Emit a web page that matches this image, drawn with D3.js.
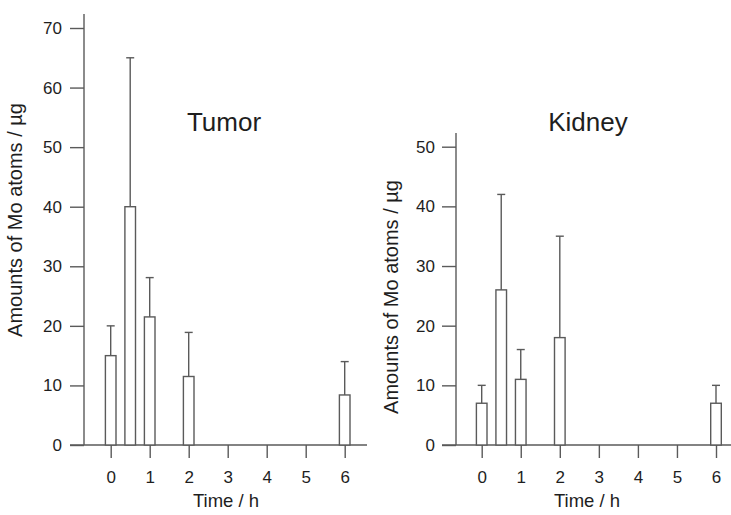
<!DOCTYPE html>
<html>
<head>
<meta charset="utf-8">
<script src="https://cdn.jsdelivr.net/npm/d3@7"></script>
<style>
  html, body { margin: 0; padding: 0; background: #fff; }
  svg { display: block; }
  text { font-family: "Liberation Sans", Arial, Helvetica, sans-serif; fill: #1e1e1e; }
</style>
</head>
<body>
<svg id="chart" width="731" height="515"></svg>
<script>
// Sampling times (h) and measured Mo amounts (µg) with upper error bars
const times = [0, 0.5, 1, 2, 6];
const tumorMean = [15, 40, 21.5, 11.5, 8.4];
const tumorErr  = [20, 65, 28.1, 18.9, 14];
const kidneyMean = [7, 26, 11, 18, 7];
const kidneyErr  = [10, 42, 16, 35, 10];
const xTicks = [0, 1, 2, 3, 4, 5, 6];
const tumorYTicks = [0, 10, 20, 30, 40, 50, 60, 70];
const kidneyYTicks = [0, 10, 20, 30, 40, 50];

const svg = d3.select("#chart");
const lineColor = "#5a5a5a";
const lineW = 1.4;
const fmt = d3.format("d");

function panel(opts) {
  const x = d3.scaleLinear().domain([0, 6]).range(opts.xRange);
  const y = d3.scaleLinear().domain([0, opts.yMax]).range([445, opts.yTopTick]);
  const g = svg.append("g");

  // y axis
  const yAxis = d3.axisLeft(y).tickValues(opts.yTicks).tickFormat(fmt)
    .tickSize(14).tickPadding(opts.yPad).tickSizeOuter(0);
  const ya = g.append("g").attr("transform", `translate(${opts.xAxisX},0)`).call(yAxis);
  ya.select(".domain").remove();
  ya.selectAll("line").attr("stroke", lineColor).attr("stroke-width", lineW);
  ya.selectAll("text").attr("font-size", 17).style("fill", "#1e1e1e");
  g.append("line")
    .attr("x1", opts.xAxisX).attr("x2", opts.xAxisX)
    .attr("y1", y(0)).attr("y2", opts.yLineTop)
    .attr("stroke", lineColor).attr("stroke-width", lineW);

  // x axis
  const xAxis = d3.axisBottom(x).tickValues(xTicks).tickFormat(fmt)
    .tickSize(13).tickPadding(13).tickSizeOuter(0);
  const xa = g.append("g").attr("transform", `translate(0,${y(0)})`).call(xAxis);
  xa.select(".domain").remove();
  xa.selectAll("line").attr("stroke", lineColor).attr("stroke-width", lineW);
  xa.selectAll("text").attr("font-size", 17).style("fill", "#1e1e1e");
  g.append("line")
    .attr("x1", opts.xAxisX - 14).attr("x2", opts.xLineEnd)
    .attr("y1", y(0)).attr("y2", y(0))
    .attr("stroke", lineColor).attr("stroke-width", lineW);

  const data = times.map((t, i) => ({ t, m: opts.mean[i], e: opts.err[i] }));
  const bw = 10.6, cap = 8;

  // error bars (upper only)
  const eb = g.append("g").selectAll("g").data(data).join("g");
  eb.append("line")
    .attr("x1", d => x(d.t)).attr("x2", d => x(d.t))
    .attr("y1", d => y(d.m)).attr("y2", d => y(d.e))
    .attr("stroke", lineColor).attr("stroke-width", lineW);
  eb.append("line")
    .attr("x1", d => x(d.t) - cap / 2).attr("x2", d => x(d.t) + cap / 2)
    .attr("y1", d => y(d.e)).attr("y2", d => y(d.e))
    .attr("stroke", lineColor).attr("stroke-width", lineW);

  // bars
  g.append("g").selectAll("rect").data(data).join("rect")
    .attr("x", d => x(d.t) - bw / 2)
    .attr("y", d => y(d.m))
    .attr("width", bw)
    .attr("height", d => y(0) - y(d.m))
    .attr("fill", "#fff")
    .attr("stroke", lineColor).attr("stroke-width", lineW);

  // titles
  g.append("text").attr("x", opts.titleX).attr("y", 131)
    .attr("text-anchor", "middle").attr("font-size", 26).text(opts.title);
  g.append("text").attr("x", opts.timeX).attr("y", 507)
    .attr("text-anchor", "middle").attr("font-size", 18.5).text("Time / h");
  g.append("text")
    .attr("transform", `translate(${opts.yTitleX},${opts.yTitleY}) rotate(-90)`)
    .attr("text-anchor", "middle").attr("font-size", 20)
    .text("Amounts of Mo atoms / µg");
}

panel({
  title: "Tumor", mean: tumorMean, err: tumorErr,
  yMax: 70, yTicks: tumorYTicks, yTopTick: 28, yLineTop: 14, yPad: 8,
  xRange: [110.7, 344.7], xAxisX: 84, xLineEnd: 367,
  titleX: 224, timeX: 226, yTitleX: 21.5, yTitleY: 220
});

panel({
  title: "Kidney", mean: kidneyMean, err: kidneyErr,
  yMax: 50, yTicks: kidneyYTicks, yTopTick: 146.7, yLineTop: 133, yPad: 7,
  xRange: [481.7, 716], xAxisX: 456, xLineEnd: 731,
  titleX: 588, timeX: 587, yTitleX: 398, yTitleY: 297
});
</script>
</body>
</html>
